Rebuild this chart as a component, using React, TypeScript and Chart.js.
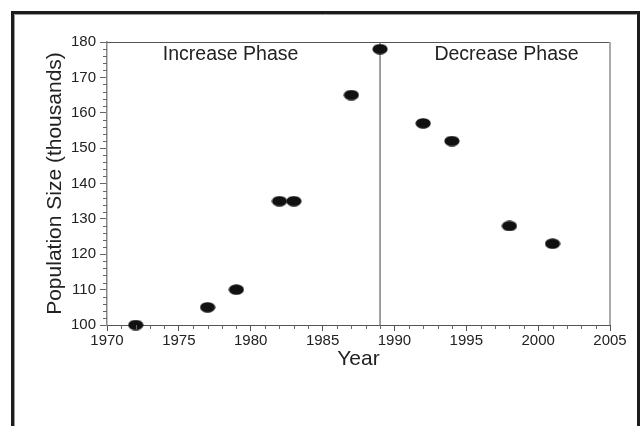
import React, { useEffect, useRef } from 'react';
import { Chart, registerables } from 'chart.js';

Chart.register(...registerables);

const years = [1972, 1977, 1979, 1982, 1983, 1987, 1989, 1992, 1994, 1998, 2001];
const population = [100, 105, 110, 135, 135, 165, 178, 157, 152, 128, 123];
const dividerYear = 1989;
const phaseLabels = ['Increase Phase', 'Decrease Phase'];
const phaseLabelX = [1978.6, 1997.8];
const phaseLabelY = [176.3, 176.3];
const xRange = [1970, 2005];
const yRange = [100, 180];
const xMajorStep = 5;
const xMinorStep = 1;
const yMajorStep = 10;
const yMinorStep = 2;

const FONT = "'Liberation Sans', Arial, sans-serif";

function makeEllipse(): HTMLCanvasElement {
  const c = document.createElement('canvas');
  c.width = 16;
  c.height = 11;
  const g = c.getContext('2d')!;
  g.fillStyle = '#111111';
  g.beginPath();
  g.ellipse(8, 5.5, 7.6, 5.2, 0, 0, Math.PI * 2);
  g.fill();
  return c;
}

const decorPlugin = {
  id: 'decor',
  afterDraw(chart: any) {
    const { ctx, chartArea, scales } = chart;
    const xs = scales.x;
    const ys = scales.y;
    ctx.save();
    // outer frame
    ctx.strokeStyle = '#1c1c1c';
    ctx.lineWidth = 3;
    ctx.strokeRect(12.5, 12.5, 626, 440);
    ctx.strokeStyle = '#9a9a9a';
    ctx.lineWidth = 1;
    ctx.beginPath();
    ctx.moveTo(14.5, 460);
    ctx.lineTo(14.5, 14.5);
    ctx.lineTo(636.5, 14.5);
    ctx.stroke();
    // top & right border of plot
    ctx.strokeStyle = '#555555';
    ctx.lineWidth = 1;
    ctx.beginPath();
    ctx.moveTo(chartArea.left, chartArea.top + 0.5);
    ctx.lineTo(chartArea.right, chartArea.top + 0.5);
    ctx.stroke();
    ctx.strokeStyle = '#aaaaaa';
    ctx.lineWidth = 2;
    ctx.beginPath();
    ctx.moveTo(chartArea.right, chartArea.top);
    ctx.lineTo(chartArea.right, chartArea.bottom);
    ctx.stroke();
    // minor ticks
    ctx.strokeStyle = '#666666';
    ctx.lineWidth = 1;
    ctx.beginPath();
    for (let v = xRange[0]; v <= xRange[1]; v += xMinorStep) {
      if ((v - xRange[0]) % xMajorStep === 0) continue;
      const px = Math.round(xs.getPixelForValue(v)) + 0.5;
      ctx.moveTo(px, chartArea.bottom);
      ctx.lineTo(px, chartArea.bottom + 4);
    }
    for (let v = yRange[0]; v <= yRange[1]; v += yMinorStep) {
      if ((v - yRange[0]) % yMajorStep === 0) continue;
      const py = Math.round(ys.getPixelForValue(v)) + 0.5;
      ctx.moveTo(chartArea.left - 4, py);
      ctx.lineTo(chartArea.left, py);
    }
    ctx.stroke();
    // phase labels
    ctx.fillStyle = '#222222';
    ctx.font = `19.5px ${FONT}`;
    ctx.textAlign = 'center';
    ctx.textBaseline = 'middle';
    phaseLabels.forEach((t, i) => {
      ctx.fillText(t, xs.getPixelForValue(phaseLabelX[i]), ys.getPixelForValue(phaseLabelY[i]));
    });
    ctx.restore();
  },
};

export default function App() {
  const ref = useRef<HTMLCanvasElement | null>(null);
  useEffect(() => {
    if (!ref.current) return;
    const ellipse = makeEllipse();
    const chart = new Chart(ref.current, {
      type: 'scatter',
      data: {
        datasets: [
          {
            type: 'line',
            label: 'divider',
            data: [
              { x: dividerYear, y: yRange[0] },
              { x: dividerYear, y: yRange[1] },
            ],
            borderColor: '#808080',
            borderWidth: 1.5,
            pointRadius: 0,
            order: 2,
          } as any,
          {
            label: 'Population',
            data: years.map((x, i) => ({ x, y: population[i] })),
            pointStyle: ellipse as any,
            pointRadius: 6,
            backgroundColor: '#111111',
            borderColor: '#111111',
            order: 1,
            clip: false as any,
          },
        ],
      },
      options: {
        responsive: false,
        animation: false,
        devicePixelRatio: 1,
        layout: { padding: { left: 0, right: 32, top: 42, bottom: 0 } },
        plugins: {
          legend: { display: false },
          tooltip: { enabled: false },
        },
        scales: {
          x: {
            type: 'linear',
            min: xRange[0],
            max: xRange[1],
            afterFit: (s: any) => {
              s.height = 101;
            },
            border: { display: true, color: '#555555', width: 1 },
            grid: { drawOnChartArea: false, drawTicks: true, tickLength: 6, color: '#555555' },
            ticks: {
              stepSize: xMajorStep,
              padding: 1,
              color: '#222222',
              font: { family: FONT, size: 15 },
              maxRotation: 0,
              autoSkip: false,
              callback: (v: any) => String(v),
            },
            title: {
              display: true,
              text: 'Year',
              color: '#222222',
              font: { family: FONT, size: 21 },
              padding: { top: 0, bottom: 54 },
            },
          },
          y: {
            type: 'linear',
            min: yRange[0],
            max: yRange[1],
            afterFit: (s: any) => {
              s.width = 107;
            },
            border: { display: true, color: '#888888', width: 1.5 },
            grid: { drawOnChartArea: false, drawTicks: true, tickLength: 7, color: '#666666' },
            ticks: {
              stepSize: yMajorStep,
              padding: 4,
              color: '#222222',
              font: { family: FONT, size: 15 },
              autoSkip: false,
              callback: (v: any) => String(v),
            },
            title: {
              display: true,
              text: 'Population Size (thousands)',
              color: '#222222',
              font: { family: FONT, size: 21 },
              padding: { top: 43, bottom: 0 },
            },
          },
        },
      },
      plugins: [decorPlugin],
    });
    return () => chart.destroy();
  }, []);
  return (
    <div style={{ position: 'fixed', left: 0, top: 0, width: 642, height: 426, background: '#ffffff' }}>
      <canvas ref={ref} width={642} height={426} style={{ display: 'block' }} />
    </div>
  );
}
